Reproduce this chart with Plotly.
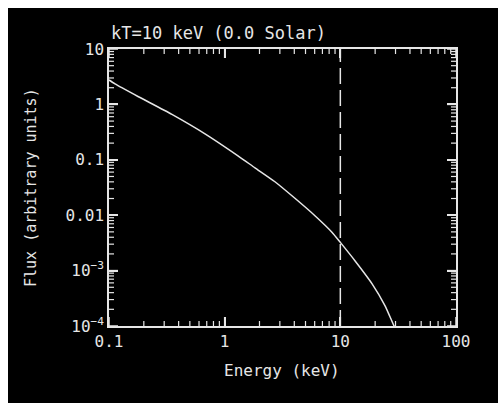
import plotly.graph_objects as go

# Data
energy_kev = [0.1, 0.1127, 0.178, 0.350, 0.676, 1.303, 1.827, 2.72, 4.05, 6.03, 8.46, 10.12,
              13.37, 18.76, 24.30, 28.49, 29.6]
flux = [2.76, 2.34, 1.39, 0.660, 0.294, 0.118, 0.0718, 0.0402, 0.0202, 0.0098, 0.00494, 0.00313,
        0.00151, 5.83e-4, 2.34e-4, 1.11e-4, 9.4e-5]
marker_energy = [10, 10]
marker_flux = [1e-4, 10]

x_major = [0.1, 1, 10, 100]
x_major_text = ["0.1", "1", "10", "100"]
y_major = [1e-4, 1e-3, 0.01, 0.1, 1, 10]
y_major_text = ["10<sup>−4</sup>", "10<sup>−3</sup>", "0.01", "0.1", "1", "10"]
x_minor = [m * d for d in [0.1, 1, 10] for m in range(2, 10)]
y_minor = [m * d for d in [1e-4, 1e-3, 0.01, 0.1, 1] for m in range(2, 10)]

title_text = "kT=10 keV (0.0 Solar)"
x_title = "Energy (keV)"
y_title = "Flux (arbitrary units)"

FG = "#e6e6e6"
FONT = "DejaVu Sans Mono"
W, H = 498, 403
L, R, T, B = 109, 456, 49, 326
MAJ, MIN = 9, 5

fig = go.Figure()
fig.add_trace(go.Scatter(x=energy_kev, y=flux, mode="lines",
                         line=dict(color=FG, width=1.5, shape="spline", smoothing=0.6),
                         showlegend=False))
fig.add_trace(go.Scatter(x=marker_energy, y=marker_flux, mode="lines",
                         line=dict(color=FG, width=1.5, dash="16px,6px"), showlegend=False))

pw, ph = R - L, B - T
def px(xp):
    return (xp - L) / pw
def py(yp):
    return (B - yp) / ph

# inward tick marks on all four sides, placed through the axes
def x_ticks(vals, length, width):
    for v in vals:
        for y0, y1 in [(0, length / ph), (1, 1 - length / ph)]:
            fig.add_shape(type="line", xref="x", yref="paper", x0=v, x1=v, y0=y0, y1=y1,
                          line=dict(color=FG, width=width), layer="above")

def y_ticks(vals, length, width):
    for v in vals:
        for x0, x1 in [(0, length / pw), (1, 1 - length / pw)]:
            fig.add_shape(type="line", xref="paper", yref="y", x0=x0, x1=x1, y0=v, y1=v,
                          line=dict(color=FG, width=width), layer="above")

x_ticks(x_major, MAJ, 1.5)
x_ticks(x_minor, MIN, 1.2)
y_ticks(y_major, MAJ, 1.5)
y_ticks(y_minor, MIN, 1.2)

# white margin strips at the top and left of the image
fig.add_shape(type="rect", xref="paper", yref="paper",
              x0=px(0), x1=px(W), y0=py(8), y1=py(0),
              fillcolor="white", line=dict(width=0), layer="above")
fig.add_shape(type="rect", xref="paper", yref="paper",
              x0=px(0), x1=px(8), y0=py(H), y1=py(0),
              fillcolor="white", line=dict(width=0), layer="above")

axis_common = dict(type="log", showgrid=False, zeroline=False, showline=True,
                   linecolor=FG, linewidth=1.5, ticks="inside", tickcolor=FG,
                   mirror="ticks")

fig.update_layout(
    width=W, height=H,
    margin=dict(l=L, r=W - R, t=T, b=H - B),
    paper_bgcolor="black", plot_bgcolor="black",
    font=dict(family=FONT, color=FG, size=16),
    xaxis=dict(**axis_common, range=[-1, 2], tickmode="array",
               tickvals=x_major, ticktext=x_major_text,
               ticklen=MAJ, tickwidth=1.5,
               tickfont=dict(family=FONT, size=16, color=FG)),
    yaxis=dict(**axis_common, range=[-4, 1], tickmode="array",
               tickvals=y_major, ticktext=y_major_text,
               ticklen=MAJ, tickwidth=1.5,
               tickfont=dict(family=FONT, size=16, color=FG)),
)

fig.add_annotation(text=title_text, xref="paper", yref="paper", x=0, y=py(33),
                   xanchor="left", yanchor="middle", showarrow=False,
                   font=dict(family=FONT, size=17, color=FG))
fig.add_annotation(text=x_title, xref="paper", yref="paper", x=px(282), y=py(370),
                   xanchor="center", yanchor="middle", showarrow=False,
                   font=dict(family=FONT, size=16, color=FG))
fig.add_annotation(text=y_title, xref="paper", yref="paper", x=px(31), y=py(188),
                   xanchor="center", yanchor="middle", showarrow=False, textangle=-90,
                   font=dict(family=FONT, size=15, color=FG))

fig.write_html("out.html")
